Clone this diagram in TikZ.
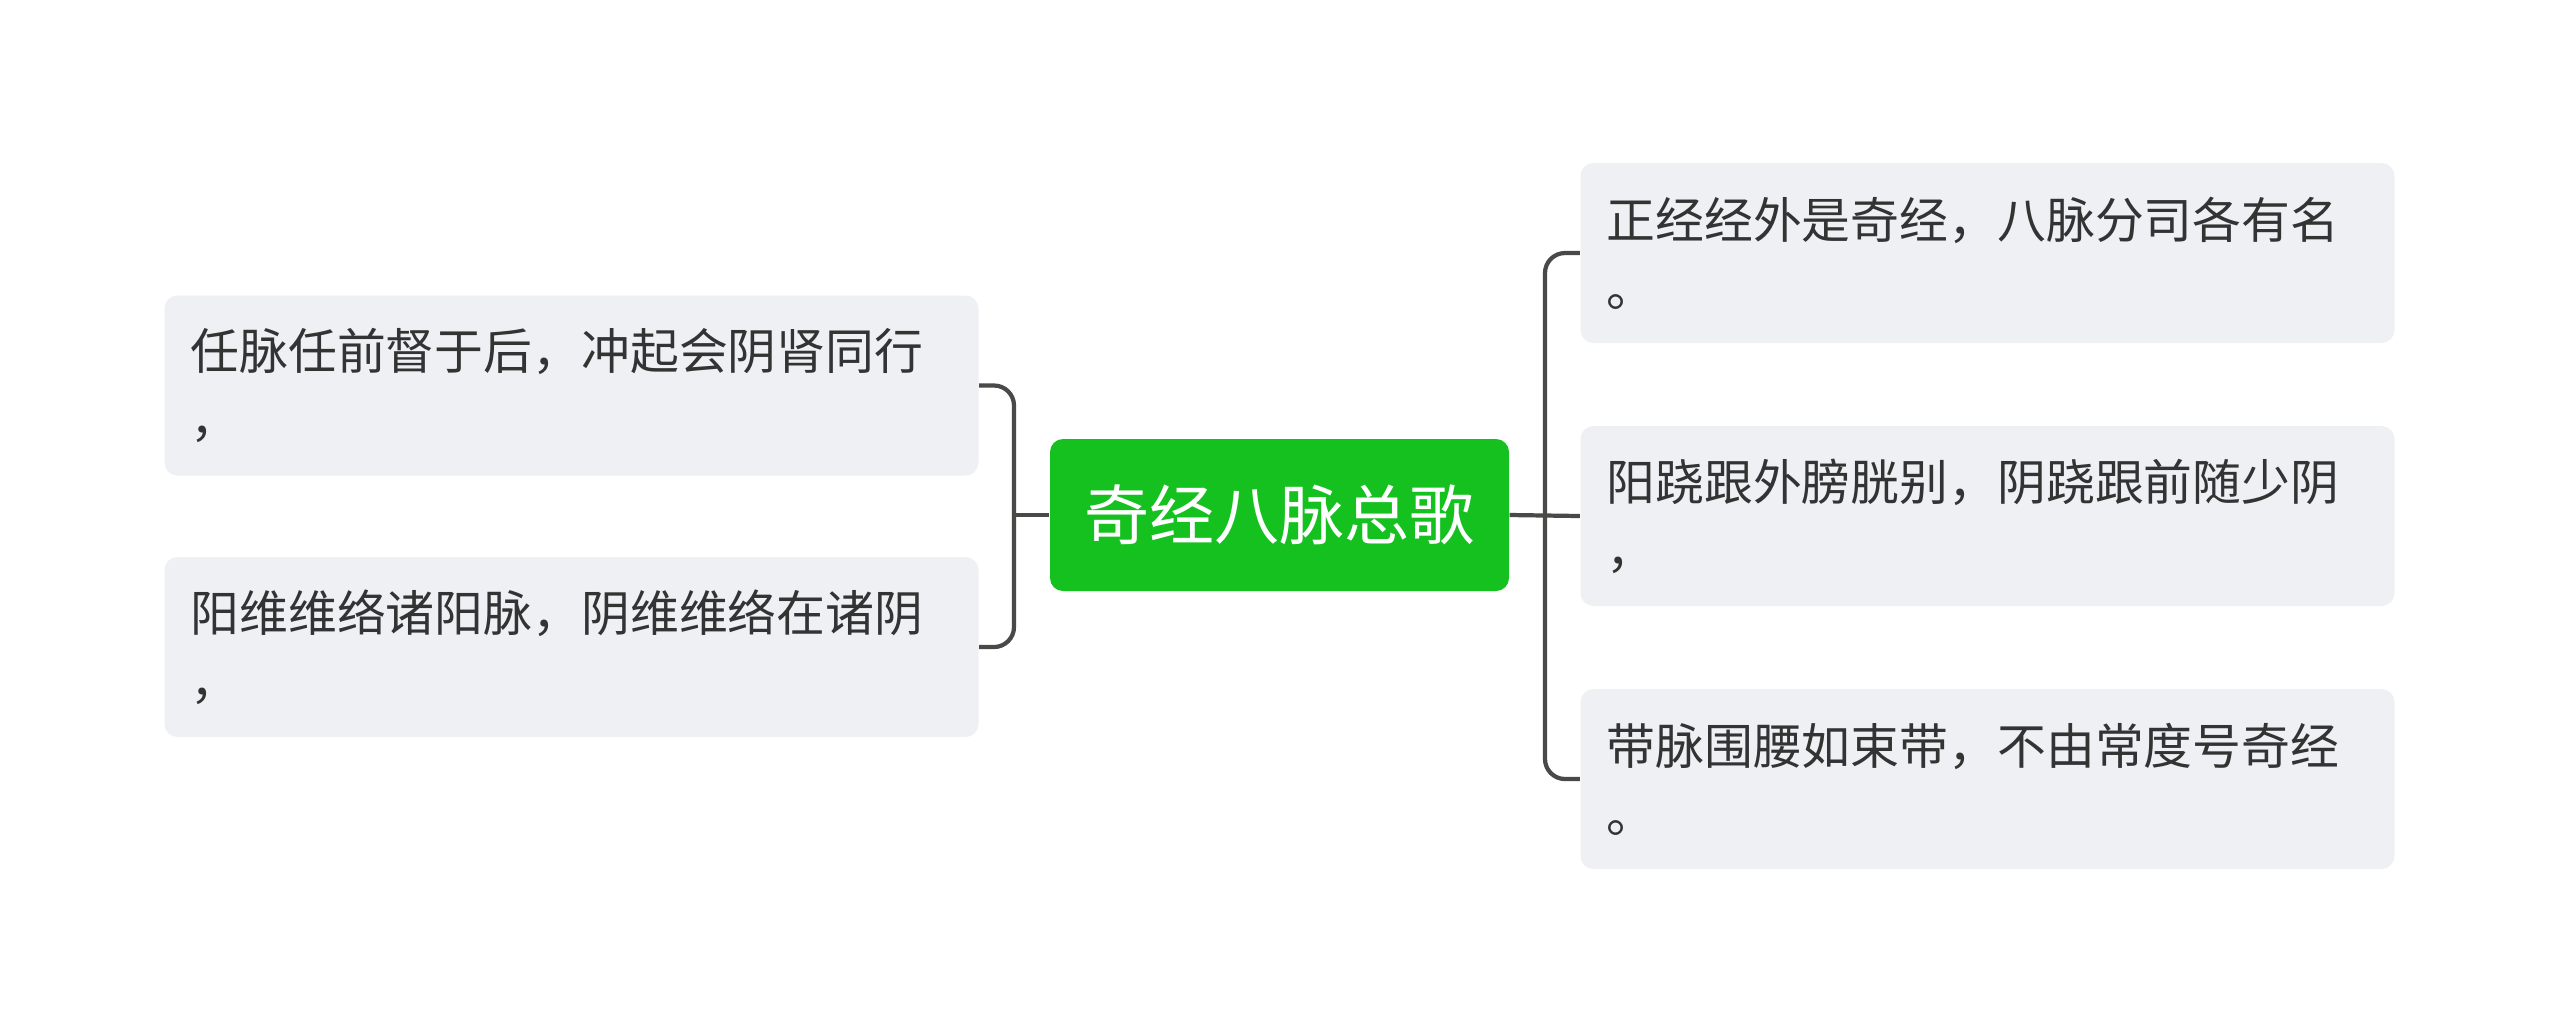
\documentclass[tikz,border=0pt]{standalone}
\usepackage{fontspec}
\setmainfont{Noto Sans CJK SC}
\definecolor{leafgray}{HTML}{EEF0F3}
\definecolor{rootgreen}{HTML}{14C11F}
\definecolor{inkgray}{HTML}{333333}
\definecolor{linkgray}{HTML}{494A48}
\begin{document}
\begin{tikzpicture}[x=0.1mm,y=-0.1mm,
  leaf/.style={fill=leafgray,rounded corners=1.3mm,minimum width=81.4mm,minimum height=18mm,
    text width=76.2mm,inner xsep=2.6mm,align=left,text=inkgray,
    font=\fontsize{13.9pt}{19.3pt}\selectfont},
  root/.style={fill=rootgreen,rounded corners=1.3mm,minimum width=45.9mm,minimum height=15.2mm,
    text=white,font=\fontsize{18.5pt}{22pt}\selectfont},
  link/.style={draw=linkgray,line width=1.2pt,rounded corners=2mm}]
\fill[white] (0,0) rectangle (2560,1034);
\useasboundingbox (0,0) rectangle (2560,1034);
% centre
\node[root] (root) at (1279.5,515) {奇经八脉总歌};
% left side
\node[leaf] (l1) at (571.5,385.5) {任脉任前督于后，冲起会阴肾同行\\，};
\node[leaf] (l2) at (571.5,647) {阳维维络诸阳脉，阴维维络在诸阴\\，};
% right side
\node[leaf] (r1) at (1987.5,253) {正经经外是奇经，八脉分司各有名\\。};
\node[leaf] (r2) at (1987.5,516) {阳跷跟外膀胱别，阴跷跟前随少阴\\，};
\node[leaf] (r3) at (1987.5,779) {带脉围腰如束带，不由常度号奇经\\。};
\coordinate (lj) at (1014,515);
\coordinate (rj) at (1545,515);
\draw[link] (l1.east) -| (lj) |- (l2.east);
\draw[link] (root.west) -- (lj);
\draw[link] (r1.west) -| (rj) |- (r3.west);
\draw[link] (root.east) -- (r2.west);
\end{tikzpicture}
\end{document}
